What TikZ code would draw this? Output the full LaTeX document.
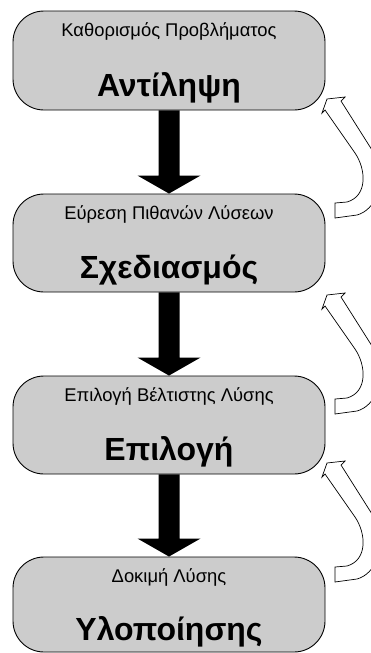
\documentclass[tikz,border=0pt]{standalone}
\usepackage{fontspec}
\setmainfont{Liberation Sans}
\usetikzlibrary{calc}

\definecolor{boxgray}{RGB}{204,204,204}

\tikzset{
  stagebox/.style={draw=black, line width=0.9pt, fill=boxgray, rounded corners=31pt,
    minimum width=312pt, inner sep=0pt},
  subtitle/.style={anchor=base, inner sep=0pt, font=\fontsize{18.4}{21}\selectfont},
  title/.style={anchor=base, inner sep=0pt, font=\fontsize{32}{38}\selectfont\bfseries},
  downarrow/.style={fill=black},
  pics/feedback/.style={code={
    \draw[fill=white, line width=0.7pt, line join=miter]
      (0,0) -- (0,-15) -- (12,-16)
      .. controls (33,-22) and (31,-49) .. (20,-65)
      -- (-10,-108) -- (-13,-105) -- (-8,-119) -- (10,-121) -- (6,-117)
      -- (37,-68)
      .. controls (53,-33) and (40,-8) .. (22,-3) -- cycle;
  }}
}

\begin{document}
\begin{tikzpicture}[x=1pt, y=-1pt]
  \useasboundingbox (0,0) rectangle (371,653);

  % stages
  \node[stagebox, minimum height=99pt] (b1) at (169,60.5) {};
  \node[stagebox, minimum height=98pt] (b2) at (169,243) {};
  \node[stagebox, minimum height=98pt] (b3) at (169,425) {};
  \node[stagebox, minimum height=95pt] (b4) at (169,604.5) {};

  % captions
  \node[subtitle] (s1) at ([yshift=-26pt]b1.north) {Καθορισμός Προβλήματος};
  \node[title]    (t1) at ([yshift=-86pt]b1.north) {Αντίληψη};
  \node[subtitle] (s2) at ([yshift=-26pt]b2.north) {Εύρεση Πιθανών Λύσεων};
  \node[title]    (t2) at ([yshift=-85pt]b2.north) {Σχεδιασμός};
  \node[subtitle] (s3) at ([yshift=-26pt]b3.north) {Επιλογή Βέλτιστης Λύσης};
  \node[title]    (t3) at ([yshift=-85pt]b3.north) {Επιλογή};
  \node[subtitle] (s4) at ([yshift=-26pt]b4.north) {Δοκιμή Λύσης};
  \node[title]    (t4) at ([yshift=-84pt]b4.north) {Υλοποίησης};

  % solid block arrows between stages
  \foreach \a/\b in {b1/b2, b2/b3, b3/b4} {
    \fill[downarrow]
      ([xshift=-10.5pt]\a.south) -- ([xshift=-10.5pt, yshift=18pt]\b.north)
      -- ([xshift=-31.5pt, yshift=18pt]\b.north) -- (\b.north)
      -- ([xshift=31.5pt, yshift=18pt]\b.north) -- ([xshift=10.5pt, yshift=18pt]\b.north)
      -- ([xshift=10.5pt]\a.south) -- cycle;
  }

  % hollow feedback arrows on the right
  \coordinate (f1) at (335,218);
  \coordinate (f2) at (335,414);
  \coordinate (f3) at (335,582);
  \pic at (f1) {feedback};
  \pic at (f2) {feedback};
  \pic at (f3) {feedback};
\end{tikzpicture}
\end{document}
